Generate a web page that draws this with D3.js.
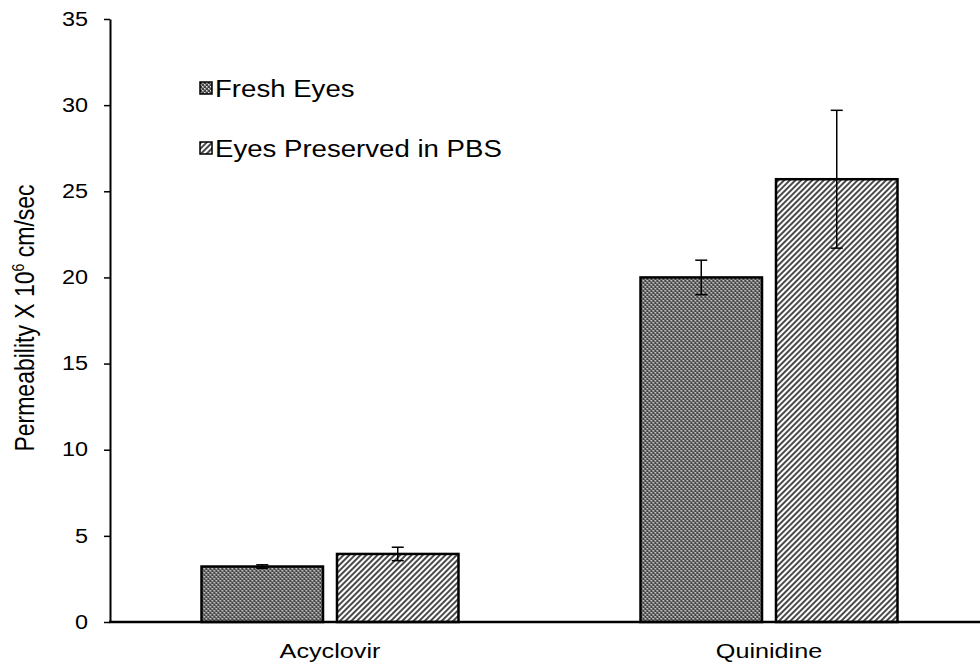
<!DOCTYPE html>
<html>
<head>
<meta charset="utf-8">
<script src="https://cdn.jsdelivr.net/npm/d3@7"></script>
<style>
  html, body { margin: 0; padding: 0; background: #fff; }
  svg { display: block; font-family: "Liberation Sans", Arial, sans-serif; }
</style>
</head>
<body>
<svg id="chart" width="980" height="671"></svg>
<script>
// Permeability data (×10^6 cm/sec) for two drugs, fresh vs. PBS-preserved eyes
const drugs = ["Acyclovir", "Quinidine"];
const seriesNames = ["Fresh Eyes", "Eyes Preserved in PBS"];
const freshValues = [3.22, 20.0];
const freshErrors = [0.1, 1.0];
const pbsValues = [3.95, 25.7];
const pbsErrors = [0.39, 4.0];
const yTicks = [0, 5, 10, 15, 20, 25, 30, 35];

const svg = d3.select("#chart");
const margin = { left: 110, top: 19, bottom: 622, right: 988.5 };
// glyphs are drawn slightly wide
const stretch = 1.2;
const legendStretch = 1.15;

const y = d3.scaleLinear().domain([0, 35]).range([margin.bottom, margin.top]);
const x0 = d3.scaleBand().domain(drugs).range([margin.left + 0.5, margin.right])
  .paddingInner(0.4146).paddingOuter(0.2073);
const x1 = d3.scaleBand().domain(seriesNames).range([0, x0.bandwidth()]).paddingInner(0.1033);

// Fill patterns
const defs = svg.append("defs");
const checker = defs.append("pattern").attr("id", "pat-fresh")
  .attr("patternUnits", "userSpaceOnUse").attr("width", 4).attr("height", 4);
checker.append("rect").attr("width", 4).attr("height", 4).attr("fill", "#8e8e8e");
checker.append("rect").attr("x", 0).attr("y", 0).attr("width", 2).attr("height", 2).attr("fill", "#444");
checker.append("rect").attr("x", 2).attr("y", 2).attr("width", 2).attr("height", 2).attr("fill", "#444");
checker.append("rect").attr("x", 2).attr("y", 0).attr("width", 1).attr("height", 1).attr("fill", "#eaeaea");
checker.append("rect").attr("x", 0).attr("y", 2).attr("width", 1).attr("height", 1).attr("fill", "#eaeaea");

const stripes = defs.append("pattern").attr("id", "pat-pbs")
  .attr("patternUnits", "userSpaceOnUse").attr("width", 4).attr("height", 4)
  .attr("patternTransform", "rotate(45)");
stripes.append("rect").attr("width", 4).attr("height", 4).attr("fill", "#ffffff");
stripes.append("rect").attr("width", 2).attr("height", 4).attr("fill", "#4a4a4a");

const fills = { "Fresh Eyes": "url(#pat-fresh)", "Eyes Preserved in PBS": "url(#pat-pbs)" };

const rows = drugs.map((d, i) => ({
  drug: d,
  bars: [
    { s: seriesNames[0], v: freshValues[i], e: freshErrors[i] },
    { s: seriesNames[1], v: pbsValues[i], e: pbsErrors[i] }
  ]
}));

// Bars
const groups = svg.append("g").selectAll("g").data(rows).join("g")
  .attr("transform", d => `translate(${x0(d.drug)},0)`);

groups.selectAll("rect").data(d => d.bars).join("rect")
  .attr("x", d => x1(d.s))
  .attr("y", d => y(d.v))
  .attr("width", x1.bandwidth())
  .attr("height", d => y(0) - y(d.v))
  .attr("fill", d => fills[d.s])
  .attr("stroke", "#000")
  .attr("stroke-width", 2.5);

// Error bars
const capHalf = 6;
const eb = groups.selectAll("g.err").data(d => d.bars).join("g").attr("class", "err")
  .attr("stroke", "#000").attr("stroke-width", 1.5);
const cx = d => x1(d.s) + x1.bandwidth() / 2;
eb.append("line")
  .attr("x1", cx).attr("x2", cx)
  .attr("y1", d => y(d.v + d.e)).attr("y2", d => y(d.v - d.e));
eb.append("line")
  .attr("x1", d => cx(d) - capHalf).attr("x2", d => cx(d) + capHalf)
  .attr("y1", d => y(d.v + d.e)).attr("y2", d => y(d.v + d.e));
eb.append("line")
  .attr("x1", d => cx(d) - capHalf).attr("x2", d => cx(d) + capHalf)
  .attr("y1", d => y(d.v - d.e)).attr("y2", d => y(d.v - d.e));

// Y axis
const yAxis = svg.append("g").attr("transform", `translate(${margin.left},0)`)
  .call(d3.axisLeft(y).tickValues(yTicks).tickSize(6).tickSizeOuter(0).tickPadding(16));
yAxis.select(".domain").attr("stroke", "#000").attr("stroke-width", 2);
yAxis.selectAll(".tick line").attr("stroke", "#000").attr("stroke-width", 1.5);
yAxis.selectAll(".tick text")
  .attr("x", 0)
  .attr("transform", `translate(-22,0) scale(${stretch},1)`)
  .attr("font-size", 19.5).attr("fill", "#000")
  .attr("font-family", "'Liberation Sans', Arial, sans-serif");

// X axis
const xAxis = svg.append("g").attr("transform", `translate(0,${margin.bottom})`)
  .call(d3.axisBottom(x0).tickSize(0).tickPadding(21));
xAxis.select(".domain").remove();
xAxis.append("line").attr("x1", margin.left - 1).attr("x2", margin.right)
  .attr("y1", 0).attr("y2", 0).attr("stroke", "#000").attr("stroke-width", 2.5);
xAxis.selectAll(".tick text")
  .attr("transform", `scale(${stretch},1)`)
  .attr("font-size", 21).attr("fill", "#000")
  .attr("font-family", "'Liberation Sans', Arial, sans-serif");

// Y axis title
const yTitle = svg.append("text")
  .attr("transform", `translate(34,318) scale(${stretch},1) rotate(-90)`)
  .attr("text-anchor", "middle").attr("font-size", 23).attr("fill", "#000");
yTitle.append("tspan").text("Permeability X 10");
yTitle.append("tspan").attr("dy", -8).attr("font-size", 14).text("6");
yTitle.append("tspan").attr("dy", 8).text(" cm/sec");

// Legend
const legend = svg.append("g").attr("transform", "translate(200,82)");
const li = legend.selectAll("g").data(seriesNames).join("g")
  .attr("transform", (d, i) => `translate(0,${i * 60})`);
li.append("rect").attr("width", 12).attr("height", 12)
  .attr("fill", d => fills[d]).attr("stroke", "#000").attr("stroke-width", 1.5);
li.append("text")
  .attr("transform", `translate(15,15) scale(${legendStretch},1)`)
  .attr("font-size", 24).attr("fill", "#000")
  .text(d => d);
</script>
</body>
</html>
